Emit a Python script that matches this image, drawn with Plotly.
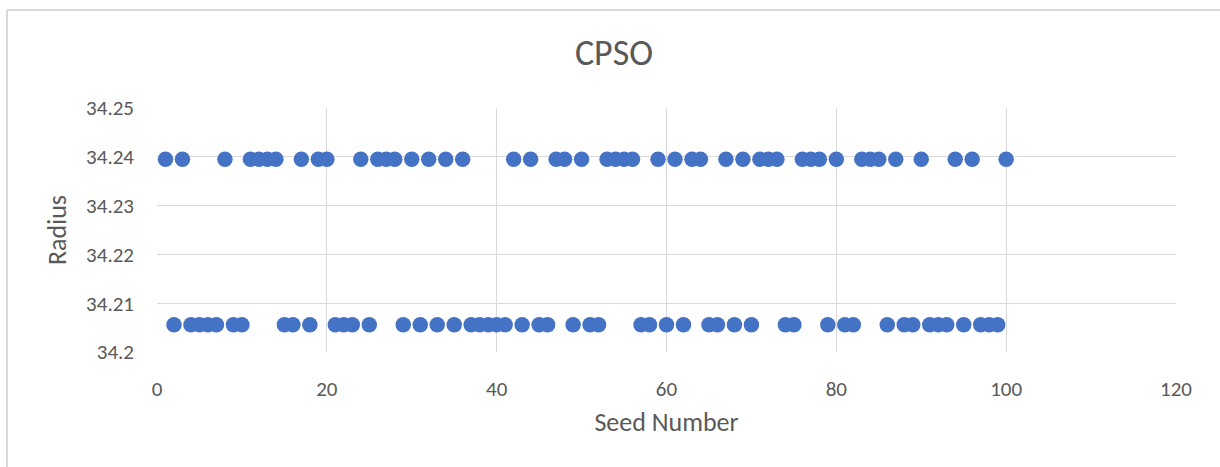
import plotly.graph_objects as go

seeds = list(range(1, 101))
upper_seeds = [1, 3, 8, 11, 12, 13, 14, 17, 19, 20, 24, 26, 27, 28, 30, 32, 34, 36,
               42, 44, 47, 48, 50, 53, 54, 55, 56, 59, 61, 63, 64, 67, 69, 71, 72, 73,
               76, 77, 78, 80, 83, 84, 85, 87, 90, 94, 96, 100]
upper_val = 34.2395
lower_val = 34.2056
radius = [upper_val if s in upper_seeds else lower_val for s in seeds]

title_text = "CPSO"
x_title = "Seed Number"
y_title = "Radius"
x_ticks = [0, 20, 40, 60, 80, 100, 120]
y_ticks = [34.2, 34.21, 34.22, 34.23, 34.24, 34.25]
y_tick_labels = ["34.2", "34.21", "34.22", "34.23", "34.24", "34.25"]

FONT = "Carlito, Calibri, Lato, sans-serif"
GREY = "#595959"

PW, PH = 1019, 244

fig = go.Figure()
fig.add_trace(go.Scatter(
    x=seeds, y=radius, mode="markers",
    marker=dict(color="#4472C4", size=15.5, line=dict(width=0)),
    hoverinfo="x+y",
))

fig.update_layout(
    width=1220, height=467,
    paper_bgcolor="white", plot_bgcolor="white",
    margin=dict(l=157, r=44, t=108, b=115, autoexpand=False),
    font=dict(family=FONT, color=GREY, size=21),
    title=dict(text=title_text, x=(614 - 157) / PW, xref="paper", xanchor="center",
               y=1 - 52 / 467, yanchor="middle",
               font=dict(size=36, color=GREY, family=FONT)),
    showlegend=False,
    xaxis=dict(
        range=[0, 120], tickvals=x_ticks, showgrid=True, gridcolor="#d9d9d9",
        gridwidth=1, zeroline=False, showline=False, ticks="",
        ticklabelstandoff=22, tickfont=dict(size=21, color=GREY),
        title=dict(text=x_title, font=dict(size=26, color=GREY), standoff=11),
    ),
    yaxis=dict(
        range=[34.2, 34.25], tickvals=y_ticks, ticktext=y_tick_labels,
        showgrid=True, gridcolor="#d9d9d9", gridwidth=1, zeroline=False,
        showline=False, ticks="", ticklabelstandoff=22,
        tickfont=dict(size=21, color=GREY),
        title=dict(text=y_title, font=dict(size=26, color=GREY), standoff=12),
    ),
    shapes=[
        dict(type="line", xref="paper", yref="paper",
             x0=(7 - 157) / PW, x1=(1230 - 157) / PW,
             y0=1 + (108 - 10) / PH, y1=1 + (108 - 10) / PH,
             line=dict(color="#d9d9d9", width=2)),
        dict(type="line", xref="paper", yref="paper",
             x0=(7 - 157) / PW, x1=(7 - 157) / PW,
             y0=1 + (108 - 10) / PH, y1=-(480 - 352) / PH,
             line=dict(color="#d9d9d9", width=2)),
    ],
)

fig.write_html("out.html", config={"displayModeBar": False},
               post_script="document.body.style.margin='0';")
